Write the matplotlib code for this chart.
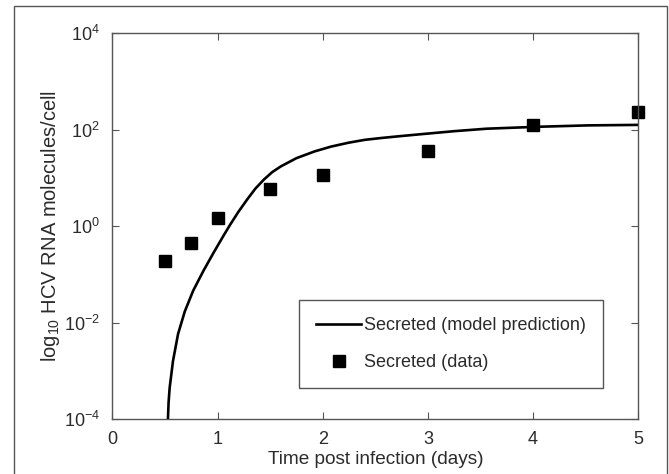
import numpy as np
import matplotlib
matplotlib.use("Agg")
import matplotlib.pyplot as plt
from matplotlib.patches import Rectangle

plt.rcParams['font.family'] = ['Liberation Sans', 'DejaVu Sans']
plt.rcParams['mathtext.fontset'] = 'custom'
plt.rcParams['mathtext.rm'] = 'Liberation Sans'
plt.rcParams['mathtext.it'] = 'Liberation Sans:italic'
plt.rcParams['axes.unicode_minus'] = False

# model curve
model_t = [0.529, 0.535, 0.545, 0.577, 0.625, 0.689, 0.769, 0.865, 0.96, 1.06,
           1.12, 1.2, 1.283, 1.36, 1.442, 1.52, 1.603, 1.75, 1.923, 2.08,
           2.244, 2.4, 2.564, 2.75, 2.949, 3.25, 3.558, 4.038, 4.519, 5.0]
model_v = [1.0e-4, 2.2e-4, 4.4e-4, 1.6e-3, 5.8e-3, 1.7e-2, 4.6e-2, 0.117, 0.275, 0.65,
           1.07, 2.0, 3.6, 6.0, 9.3, 13.2, 17.4, 25.7, 35.5, 44.7,
           53.7, 61.7, 67.6, 74.1, 81.3, 93.3, 105, 115, 123, 126]

# measured secreted RNA
data_t = [0.5, 0.75, 1.0, 1.5, 2.0, 3.0, 4.0, 5.0]
data_v = [0.19, 0.45, 1.45, 5.9, 11.5, 37, 123, 234]

xticks = [0, 1, 2, 3, 4, 5]
yticks = [1e-4, 1e-2, 1e0, 1e2, 1e4]
ytick_labels = ['$10^{-4}$', '$10^{-2}$', '$10^{0}$', '$10^{2}$', '$10^{4}$']

edge = '#555555'
txt = '#2b2b2b'

fig = plt.figure(figsize=(6.69, 4.74), dpi=100)
fig.patches.append(Rectangle((14/669, -0.05), 653/669, 1.05 - 6/474, transform=fig.transFigure,
                             fill=False, edgecolor=edge, linewidth=1.0))
ax = fig.add_axes([112.3/669, 55/474, 526/669, 385.7/474])

ax.plot(model_t, model_v, color='black', lw=1.9, label='Secreted (model prediction)')
ax.plot(data_t, data_v, 's', color='black', ms=8.5, clip_on=False, label='Secreted (data)')

ax.set_yscale('log')
ax.set_xlim(0, 5)
ax.set_ylim(1e-4, 1e4)
ax.set_xticks(xticks)
ax.set_yticks(yticks)
ax.set_yticklabels(ytick_labels)
ax.yaxis.set_minor_locator(matplotlib.ticker.NullLocator())
ax.tick_params(direction='in', top=True, right=True, length=5, width=0.8, color=edge,
               labelsize=13, labelcolor=txt, pad=9)
for s in ax.spines.values():
    s.set_color(edge)
    s.set_linewidth(1.0)

ax.set_xlabel('Time post infection (days)', fontsize=13.7, color=txt, va='center')
ax.xaxis.set_label_coords(0.5, -0.106)
ax.set_ylabel('log$_{10}$ HCV RNA molecules/cell', fontsize=14.5, color=txt, va='center')
ax.yaxis.set_label_coords(-0.118, 0.5)

leg = ax.legend(loc='lower right', bbox_to_anchor=(0.933, 0.080), fontsize=13,
                frameon=True, fancybox=False, framealpha=1, edgecolor=edge,
                handlelength=2.5, handletextpad=0.15, labelspacing=1.1,
                borderpad=0.95, borderaxespad=0)
leg.get_frame().set_linewidth(1.0)
for t in leg.get_texts():
    t.set_color(txt)

fig.savefig('out.png', dpi=100)
